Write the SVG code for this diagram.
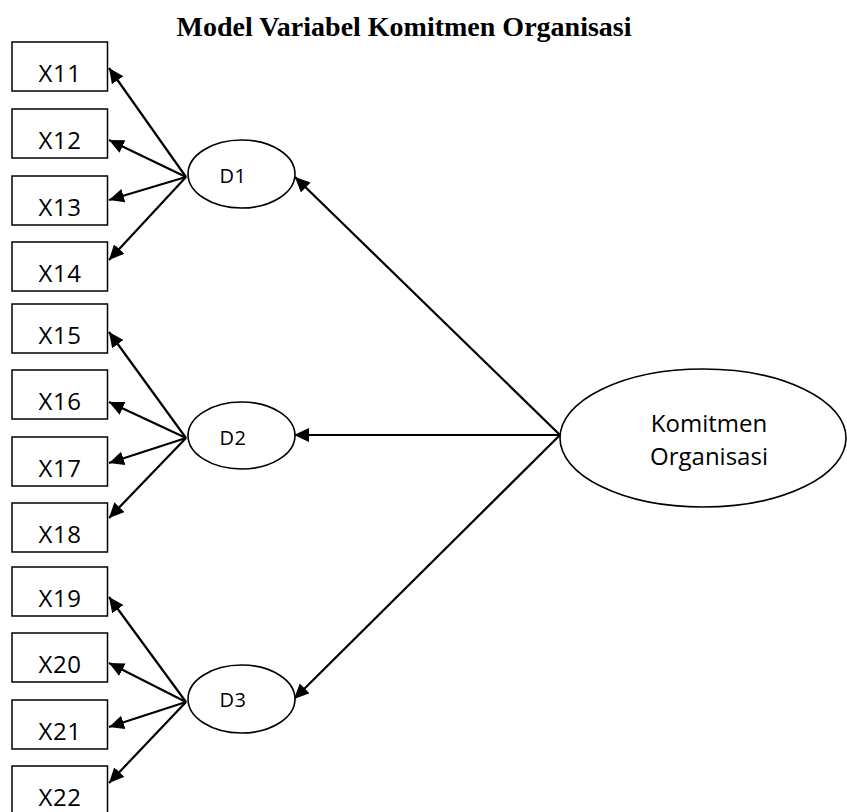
<svg xmlns="http://www.w3.org/2000/svg" width="847" height="812" viewBox="0 0 847 812">
  <style>
    .box { fill: #fff; stroke: #000; stroke-width: 1.5; }
    .oval { fill: #fff; stroke: #000; stroke-width: 1.6; }
    .lbl { font-family: "Open Sans", "Liberation Sans", sans-serif; font-size: 24px; letter-spacing: 0.6px; fill: #000; text-anchor: middle; }
    .dlbl { font-family: "Open Sans", "Liberation Sans", sans-serif; font-size: 20px; letter-spacing: 0.5px; fill: #000; text-anchor: middle; }
    .title { font-family: "Liberation Serif", "Times New Roman", serif; font-weight: bold; font-size: 28px; fill: #000; text-anchor: middle; }
    .big { font-family: "Open Sans", "Liberation Sans", sans-serif; font-size: 24px; fill: #000; text-anchor: middle; }
    .edge { stroke: #000; stroke-width: 2.2; fill: none; marker-end: url(#arrow); }
  </style>
  <defs>
    <marker id="arrow" markerUnits="userSpaceOnUse" markerWidth="18" markerHeight="16" refX="15" refY="7" orient="auto">
      <path d="M0,0 L15,7 L0,14 Z" fill="#000"/>
    </marker>
  </defs>
  <rect width="847" height="812" fill="#fff"/>

  <text class="title" x="404" y="36">Model Variabel Komitmen Organisasi</text>

  <g id="connectors">
    <!-- Komitmen Organisasi to dimensions -->
    <line class="edge" x1="560" y1="435" x2="295" y2="177"/>
    <line class="edge" x1="560" y1="435" x2="294" y2="435"/>
    <line class="edge" x1="560" y1="435" x2="294" y2="699"/>
    <!-- D1 indicators -->
    <line class="edge" x1="186" y1="177" x2="109" y2="68"/>
    <line class="edge" x1="186" y1="177" x2="109" y2="140"/>
    <line class="edge" x1="186" y1="177" x2="109" y2="200"/>
    <line class="edge" x1="186" y1="177" x2="109" y2="260"/>
    <!-- D2 indicators -->
    <line class="edge" x1="186" y1="438" x2="109" y2="332"/>
    <line class="edge" x1="186" y1="438" x2="109" y2="402"/>
    <line class="edge" x1="186" y1="438" x2="109" y2="463"/>
    <line class="edge" x1="186" y1="438" x2="109" y2="518"/>
    <!-- D3 indicators -->
    <line class="edge" x1="186" y1="702" x2="109" y2="597"/>
    <line class="edge" x1="186" y1="702" x2="109" y2="663"/>
    <line class="edge" x1="186" y1="702" x2="109" y2="727"/>
    <line class="edge" x1="186" y1="702" x2="109" y2="783"/>
  </g>

  <g id="X11"><rect class="box" x="12" y="42" width="95.5" height="49"/><text class="lbl" x="60" y="82">X11</text></g>
  <g id="X12"><rect class="box" x="12" y="109" width="95.5" height="49"/><text class="lbl" x="60" y="149">X12</text></g>
  <g id="X13"><rect class="box" x="12" y="176" width="95.5" height="49"/><text class="lbl" x="60" y="216">X13</text></g>
  <g id="X14"><rect class="box" x="12" y="242" width="95.5" height="49"/><text class="lbl" x="60" y="282">X14</text></g>
  <g id="X15"><rect class="box" x="12" y="304" width="95.5" height="49"/><text class="lbl" x="60" y="344">X15</text></g>
  <g id="X16"><rect class="box" x="12" y="370" width="95.5" height="49"/><text class="lbl" x="60" y="410">X16</text></g>
  <g id="X17"><rect class="box" x="12" y="437" width="95.5" height="49"/><text class="lbl" x="60" y="477">X17</text></g>
  <g id="X18"><rect class="box" x="12" y="503" width="95.5" height="49"/><text class="lbl" x="60" y="543">X18</text></g>
  <g id="X19"><rect class="box" x="12" y="567" width="95.5" height="49"/><text class="lbl" x="60" y="607">X19</text></g>
  <g id="X20"><rect class="box" x="12" y="633" width="95.5" height="49"/><text class="lbl" x="60" y="673">X20</text></g>
  <g id="X21"><rect class="box" x="12" y="700" width="95.5" height="49"/><text class="lbl" x="60" y="740">X21</text></g>
  <g id="X22"><rect class="box" x="12" y="766" width="95.5" height="49"/><text class="lbl" x="60" y="806">X22</text></g>

  <g id="D1"><ellipse class="oval" cx="241.5" cy="174" rx="53.5" ry="34"/><text class="dlbl" x="233" y="183">D1</text></g>
  <g id="D2"><ellipse class="oval" cx="241.5" cy="435.5" rx="53.5" ry="33.5"/><text class="dlbl" x="233" y="445">D2</text></g>
  <g id="D3"><ellipse class="oval" cx="241.5" cy="699" rx="53.5" ry="34"/><text class="dlbl" x="233" y="707">D3</text></g>

  <g id="KomitmenOrganisasi">
    <ellipse class="oval" cx="703" cy="438" rx="143" ry="69"/>
    <text class="big" x="709" y="432">Komitmen</text>
    <text class="big" x="709" y="465">Organisasi</text>
  </g>
</svg>
